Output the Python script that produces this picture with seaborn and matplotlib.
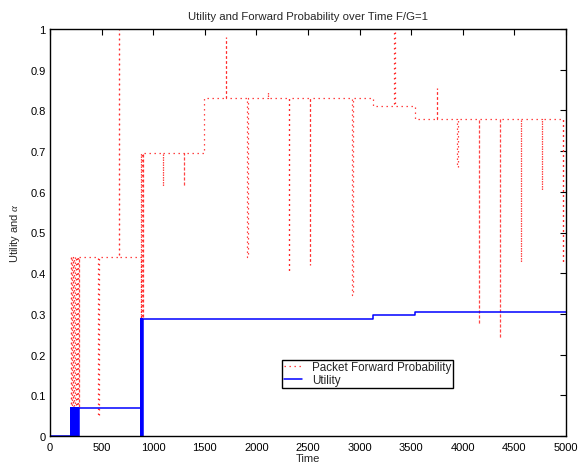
import matplotlib
matplotlib.use("Agg")
import matplotlib.pyplot as plt
import seaborn as sns
import pandas as pd

# ---- data ----
red_t = [200, 202, 204, 206, 208, 210, 212, 214, 216, 218, 220, 222, 224, 226, 228,
         230, 232, 234, 236, 238, 240, 242, 244, 246, 248, 250, 252, 254, 256, 258,
         260, 262, 264, 266, 268, 270, 272, 274, 276, 278, 280,
         468, 472, 668, 672,
         880, 883, 886, 889, 892, 895, 898, 900,
         1092, 1096, 1299, 1303, 1494, 1702, 1706, 1910, 1914, 2113, 2117,
         2313, 2317, 2519, 2523, 2930, 2934,
         3127, 3337, 3341, 3537, 3747, 3751, 3947, 3951, 4154, 4158,
         4358, 4362, 4561, 4565, 4764, 4768, 4968, 4972, 5000]
red_v = [0.44, 0.07, 0.44, 0.07, 0.44, 0.07, 0.44, 0.07, 0.44, 0.07, 0.44, 0.07, 0.44, 0.07, 0.44,
         0.07, 0.44, 0.07, 0.44, 0.07, 0.44, 0.07, 0.44, 0.07, 0.44, 0.07, 0.44, 0.07, 0.44, 0.07,
         0.44, 0.07, 0.44, 0.07, 0.44, 0.07, 0.44, 0.07, 0.44, 0.07, 0.44,
         0.05, 0.44, 1.0, 0.44,
         0.29, 0.695, 0.29, 0.695, 0.29, 0.695, 0.29, 0.695,
         0.615, 0.695, 0.615, 0.695, 0.83, 0.98, 0.83, 0.44, 0.83, 0.846, 0.83,
         0.403, 0.83, 0.421, 0.83, 0.346, 0.83,
         0.81, 0.995, 0.81, 0.78, 0.855, 0.78, 0.662, 0.78, 0.276, 0.78,
         0.241, 0.78, 0.428, 0.78, 0.604, 0.78, 0.424, 0.78, 0.78]

blue_t = [0, 200, 203, 206, 209, 212, 215, 218, 221, 224, 227, 230, 233, 236, 239,
          242, 245, 248, 251, 254, 257, 260, 263, 266, 269, 272, 275, 278, 281,
          880, 883, 886, 889, 892, 895, 898, 3130, 3540, 5000]
blue_v = [0, 0.07, 0, 0.07, 0, 0.07, 0, 0.07, 0, 0.07, 0, 0.07, 0, 0.07, 0,
          0.07, 0, 0.07, 0, 0.07, 0, 0.07, 0, 0.07, 0, 0.07, 0, 0.07, 0.068,
          0.288, 0, 0.288, 0, 0.288, 0, 0.288, 0.298, 0.305, 0.305]

x_ticks = [0, 500, 1000, 1500, 2000, 2500, 3000, 3500, 4000, 4500, 5000]
y_ticks = [0, 0.1, 0.2, 0.3, 0.4, 0.5, 0.6, 0.7, 0.8, 0.9, 1]
y_tick_labels = ["0", "0.1", "0.2", "0.3", "0.4", "0.5", "0.6", "0.7", "0.8", "0.9", "1"]

title = "Utility and Forward Probability over Time F/G=1"
xlabel = "Time"
ylabel = r"Utility and $\alpha$"
red_label = "Packet Forward Probability"
blue_label = "Utility"

# ---- style ----
sns.set_style("white")
plt.rcParams["font.family"] = ["Liberation Sans", "DejaVu Sans"]
plt.rcParams["mathtext.fontset"] = "custom"
plt.rcParams["mathtext.it"] = "Liberation Serif:italic"

fig = plt.figure(figsize=(5.79, 4.64), dpi=100)
ax = fig.add_axes([50 / 579, (464 - 437) / 464, 516 / 579, 407 / 464])

red_df = pd.DataFrame({"t": red_t, "v": red_v})
blue_df = pd.DataFrame({"t": blue_t, "v": blue_v})

sns.lineplot(data=red_df, x="t", y="v", ax=ax, estimator=None, sort=False,
             drawstyle="steps-post", color="#ff2a2a", linewidth=0.9,
             dashes=False, label=red_label)
ax.lines[-1].set_dashes((1.1, 2.9))
sns.lineplot(data=blue_df, x="t", y="v", ax=ax, estimator=None, sort=False,
             drawstyle="steps-post", color="#0000ff", linewidth=1.1,
             label=blue_label)

ax.set_xlim(0, 5000)
ax.set_ylim(0, 1)
ax.set_xticks(x_ticks)
ax.set_yticks(y_ticks)
ax.set_yticklabels(y_tick_labels)
ax.tick_params(direction="in", length=4, width=0.8, top=True, right=True,
               labelsize=8, colors="black")
ax.tick_params(axis="x", pad=4)
ax.tick_params(axis="y", pad=3)
for s in ax.spines.values():
    s.set_visible(True)
    s.set_color("black")
    s.set_linewidth(1.0)

ax.set_title(title, fontsize=8.2, pad=7)
ax.set_xlabel(xlabel, fontsize=8, labelpad=1)
ax.set_ylabel(ylabel, fontsize=8, labelpad=6)

leg = ax.legend(loc="lower left", bbox_to_anchor=(0.4496, 0.118), fontsize=8.4,
                frameon=True, fancybox=False, edgecolor="black", framealpha=1,
                handlelength=1.6, handletextpad=0.8, borderpad=0.15,
                labelspacing=0.08, borderaxespad=0)
leg.get_frame().set_linewidth(1.0)
leg.get_lines()[0].set_dashes((1.1, 2.9))

fig.savefig("out.png", dpi=100)
